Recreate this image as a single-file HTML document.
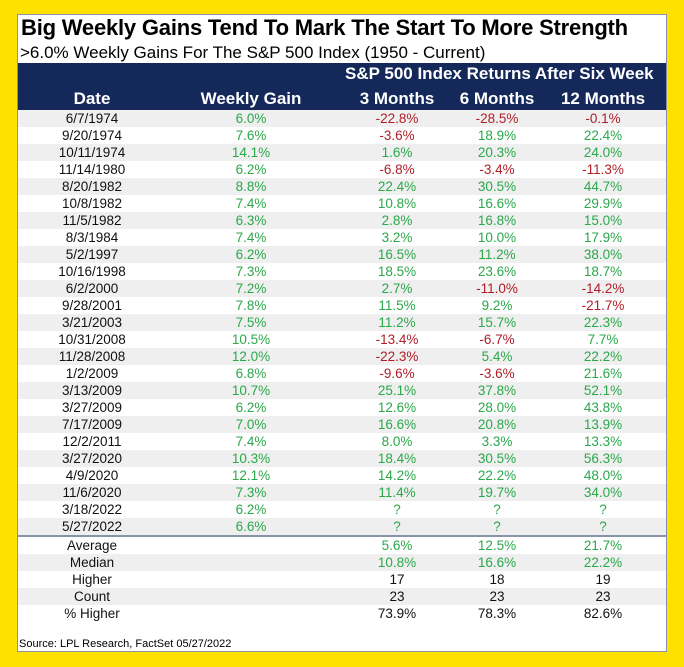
<!DOCTYPE html>
<html><head><meta charset="utf-8"><style>
body{margin:0;width:684px;height:667px;background:#FFE100;position:relative;overflow:hidden;font-family:"Liberation Sans",Arial,sans-serif}
#panel{position:absolute;left:17px;top:14px;width:650px;height:638px;background:#fff;border:1px solid #8890b0;box-sizing:border-box}
.t{position:absolute;white-space:nowrap}
.c{position:absolute;transform:translateX(-50%);white-space:nowrap;font-size:13.5px;line-height:17px}
.row{position:absolute;left:18px;width:648px}
</style></head><body>
<div id="panel"></div>
<div class="t" style="left:21px;top:15px;font-size:22px;font-weight:bold;letter-spacing:-0.2px">Big Weekly Gains Tend To Mark The Start To More Strength</div>
<div class="t" style="left:20px;top:43px;font-size:17px">&gt;6.0% Weekly Gains For The S&amp;P 500 Index (1950 - Current)</div>
<div style="position:absolute;left:18px;top:63px;width:648px;height:47px;background:#14285a"></div>
<div class="t" style="left:345px;top:64px;font-size:17px;font-weight:bold;color:#fff">S&amp;P 500 Index Returns After Six Week</div>
<div id="tbl"></div>
<div style="position:absolute;left:18px;top:535px;width:648px;height:2px;background:#8a94a8"></div>
<div class="t" style="left:19px;top:638px;font-size:11px">Source: LPL Research, FactSet 05/27/2022</div>
<script>
const headers=["Date","Weekly Gain","3 Months","6 Months","12 Months"];
const dates=["6/7/1974","9/20/1974","10/11/1974","11/14/1980","8/20/1982","10/8/1982","11/5/1982","8/3/1984","5/2/1997","10/16/1998","6/2/2000","9/28/2001","3/21/2003","10/31/2008","11/28/2008","1/2/2009","3/13/2009","3/27/2009","7/17/2009","12/2/2011","3/27/2020","4/9/2020","11/6/2020","3/18/2022","5/27/2022"];
const gains=[6.0,7.6,14.1,6.2,8.8,7.4,6.3,7.4,6.2,7.3,7.2,7.8,7.5,10.5,12.0,6.8,10.7,6.2,7.0,7.4,10.3,12.1,7.3,6.2,6.6];
const m3=[-22.8,-3.6,1.6,-6.8,22.4,10.8,2.8,3.2,16.5,18.5,2.7,11.5,11.2,-13.4,-22.3,-9.6,25.1,12.6,16.6,8.0,18.4,14.2,11.4,null,null];
const m6=[-28.5,18.9,20.3,-3.4,30.5,16.6,16.8,10.0,11.2,23.6,-11.0,9.2,15.7,-6.7,5.4,-3.6,37.8,28.0,20.8,3.3,30.5,22.2,19.7,null,null];
const m12=[-0.1,22.4,24.0,-11.3,44.7,29.9,15.0,17.9,38.0,18.7,-14.2,-21.7,22.3,7.7,22.2,21.6,52.1,43.8,13.9,13.3,56.3,48.0,34.0,null,null];
const sumLabels=["Average","Median","Higher","Count","% Higher"];
const sum3=["5.6%","10.8%","17","23","73.9%"];
const sum6=["12.5%","16.6%","18","23","78.3%"];
const sum12=["21.7%","22.2%","19","23","82.6%"];
const colX=[92,251,397,497,603];
const G="#2aa84a",R="#b01e28";
const tbl=document.getElementById('tbl');
function cell(x,y,txt,color,name,extra){const d=document.createElement('div');d.className='c';d.style.left=x+'px';d.style.top=y+'px';d.style.color=color;if(extra)d.style.cssText+=extra;d.textContent=txt;


tbl.appendChild(d);}
headers.forEach((h,i)=>cell(colX[i],89,h,'#fff','col-header-'+i,'font-size:17px;font-weight:bold;line-height:19px'));
const rowH=17,top0=110;
function fmt(v){return v===null?'?':v.toFixed(1)+'%';}
function col(v){return v===null?G:(v<0?R:G);}
dates.forEach((d,i)=>{
 const y=top0+i*rowH;
 if(i%2===0){const b=document.createElement('div');b.className='row';b.style.top=y+'px';b.style.height=rowH+'px';b.style.background='#efefef';
 
 
 tbl.appendChild(b);}
 cell(colX[0],y,d,'#111','date-cell');
 cell(colX[1],y,fmt(gains[i]),G,'gain-cell');
 cell(colX[2],y,fmt(m3[i]),col(m3[i]),'m3-cell');
 cell(colX[3],y,fmt(m6[i]),col(m6[i]),'m6-cell');
 cell(colX[4],y,fmt(m12[i]),col(m12[i]),'m12-cell');
});
sumLabels.forEach((l,i)=>{
 const y=537+i*17;
 if(i%2===1){const b=document.createElement('div');b.className='row';b.style.top=y+'px';b.style.height='17px';b.style.background='#efefef';
 
 
 tbl.appendChild(b);}
 const c=i<2?G:'#111';
 cell(colX[0],y,l,'#111','summary-label');
 cell(colX[2],y,sum3[i],c,'summary-m3');
 cell(colX[3],y,sum6[i],c,'summary-m6');
 cell(colX[4],y,sum12[i],c,'summary-m12');
});
</script>
</body></html>
